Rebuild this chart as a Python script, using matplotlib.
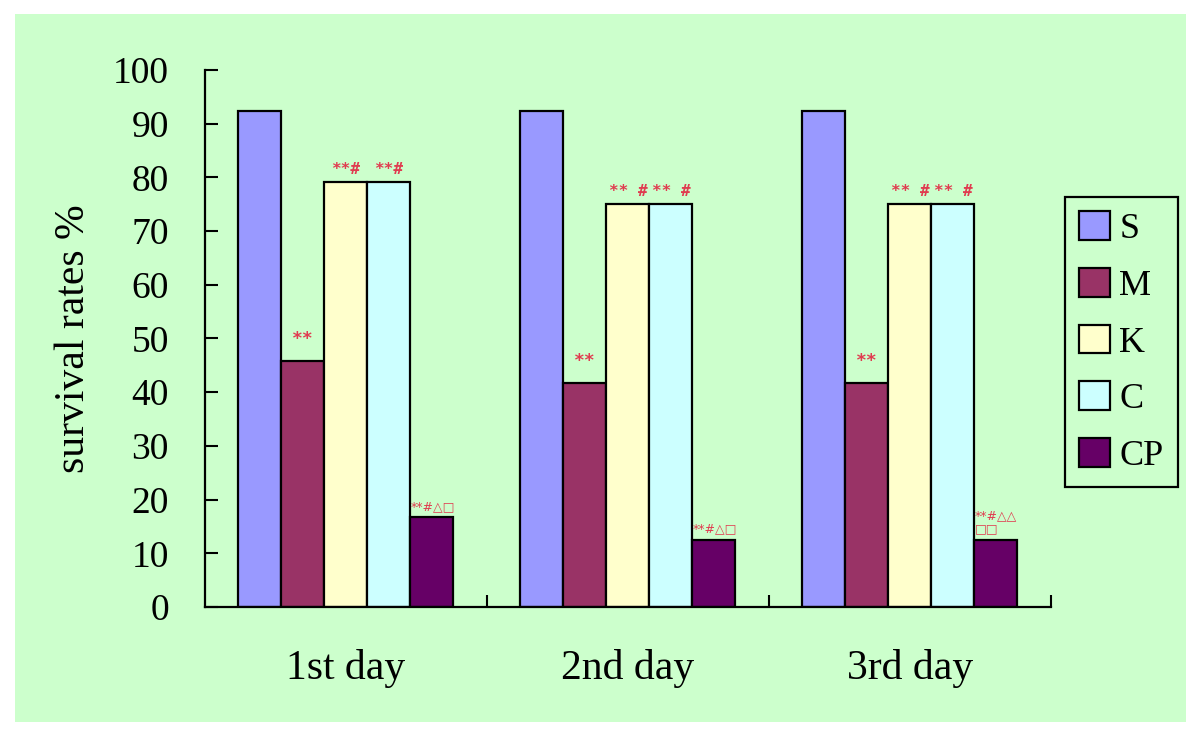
import matplotlib.pyplot as plt
import numpy as np
from matplotlib.patches import Rectangle

# data
days = ['1st day', '2nd day', '3rd day']
groups = ['S', 'M', 'K', 'C', 'CP']
S = [92.3, 92.3, 92.3]
M = [45.8, 41.7, 41.7]
K = [79.2, 75.0, 75.0]
C = [79.2, 75.0, 75.0]
CP = [16.7, 12.5, 12.5]
colors = ['#9999FF', '#993366', '#FFFFCC', '#CCFFFF', '#660066']

# significance marks above bars
marks_M = ['**', '**', '**']
marks_K = ['**#', '** #', '** #']
marks_C = ['**#', '** #', '** #']
marks_CP = ['**#△□', '**#△□', '**#△△\n□□']

plt.rcParams['font.family'] = ['Liberation Serif', 'DejaVu Serif', 'DejaVu Sans']

bg = '#CCFFCC'
fig = plt.figure(figsize=(12, 7.36), dpi=100, facecolor='white')
fig.patches.append(Rectangle((15 / 1200, 14 / 736), 1171 / 1200, 708 / 736,
                             transform=fig.transFigure, facecolor=bg,
                             edgecolor='none', zorder=-10))
ax = fig.add_axes([0.1708, 0.1753, 0.705, 0.7296])
ax.set_facecolor(bg)

x = np.arange(len(days))
width = 0.1525
series = [S, M, K, C, CP]
for i, vals in enumerate(series):
    ax.bar(x + (i - 2) * width, vals, width, color=colors[i],
           edgecolor='black', linewidth=1.6, label=groups[i])

red = '#E03C50'
mono = ['DejaVu Sans Mono']
for j in range(3):
    ax.text(x[j] - width, M[j] + 2.4, marks_M[j], ha='center', va='bottom',
            color=red, fontsize=13, fontweight='bold', family=mono)
    ax.text(x[j], K[j] + 0.9, marks_K[j], ha='center', va='bottom',
            color=red, fontsize=11.5, fontweight='bold', family=mono)
    ax.text(x[j] + width, C[j] + 0.9, marks_C[j], ha='center', va='bottom',
            color=red, fontsize=11.5, fontweight='bold', family=mono)
    ax.text(x[j] + 1.5 * width, CP[j] + 0.8, marks_CP[j], ha='left', va='bottom',
            color=red, fontsize=9, linespacing=1.0, family=['DejaVu Sans'])

ax.set_xlim(-0.5, 2.5)
ax.set_ylim(0, 100)
ax.set_yticks(np.arange(0, 101, 10))
ax.set_xticks(x, days)
ax.set_xticks([0.5, 1.5, 2.5], minor=True)
ax.tick_params(axis='x', which='major', length=0, pad=30, labelsize=30)
ax.tick_params(axis='x', which='minor', direction='in', length=9, width=1.5)
ax.tick_params(axis='y', direction='in', length=9, width=1.5, pad=26, labelsize=27)
for s in ['top', 'right']:
    ax.spines[s].set_visible(False)
for s in ['left', 'bottom']:
    ax.spines[s].set_linewidth(1.6)
ax.set_ylabel('survival rates %', fontsize=30, labelpad=14)

leg = fig.legend(loc='upper left', bbox_to_anchor=(0.8875, 0.7323),
                 borderaxespad=0, fontsize=26, handlelength=0.85, handleheight=0.85,
                 labelspacing=0.6, handletextpad=0.25, borderpad=0.4,
                 fancybox=False, framealpha=1, facecolor=bg, edgecolor='black')
leg.get_frame().set_linewidth(1.6)

fig.savefig('out.png', dpi=100, facecolor='white')
